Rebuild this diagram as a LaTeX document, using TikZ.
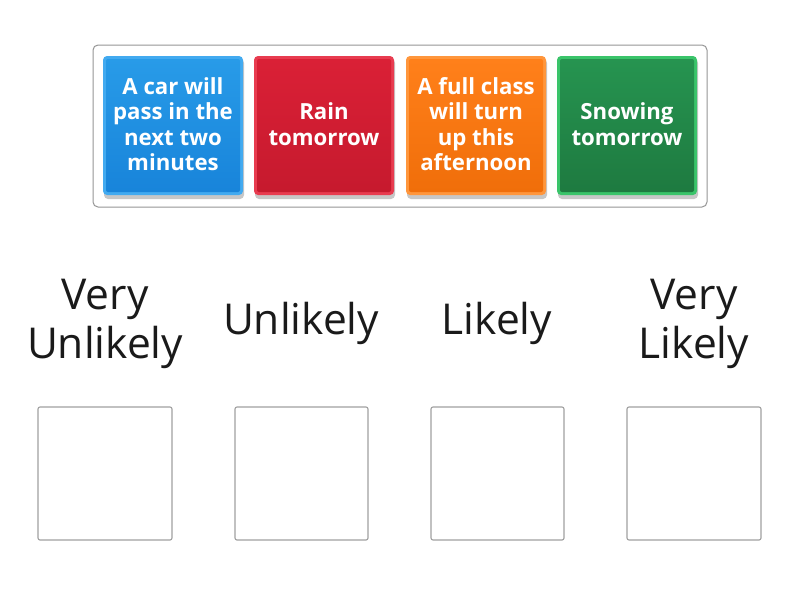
\documentclass[tikz,border=0pt]{standalone}
\usepackage{fontspec}
\setmainfont{Open Sans}
\definecolor{blueL}{RGB}{66,170,240}
\definecolor{blueT}{RGB}{40,155,232}
\definecolor{blueB}{RGB}{24,132,218}
\definecolor{redL}{RGB}{232,60,80}
\definecolor{redT}{RGB}{218,32,54}
\definecolor{redB}{RGB}{198,26,46}
\definecolor{orL}{RGB}{255,150,60}
\definecolor{orT}{RGB}{255,128,26}
\definecolor{orB}{RGB}{240,110,10}
\definecolor{grL}{RGB}{58,196,106}
\definecolor{grT}{RGB}{38,148,80}
\definecolor{grB}{RGB}{30,122,64}
\definecolor{framegray}{RGB}{150,150,150}
\definecolor{boxgray}{RGB}{160,160,160}
\definecolor{labelink}{RGB}{26,26,26}
\begin{document}
\begin{tikzpicture}[x=1pt,y=-1pt,
  cardtext/.style={text=white,font=\bfseries\fontsize{22.2}{25.5}\selectfont,align=center,inner sep=0pt},
  labeltext/.style={text=labelink,font=\fontsize{42.5}{49}\selectfont,align=center,inner sep=0pt},
  dropbox/.style={draw=boxgray,line width=1.1pt,rounded corners=2pt,fill=white},
  shadowbox/.style={fill=black,opacity=0.22,rounded corners=4pt}]
\useasboundingbox (0,0) rectangle (800,600);
\fill[white] (0,0) rectangle (800,600);
% container
\draw[framegray,line width=1pt,rounded corners=5pt] (93,45) rectangle (707,207);
% cards
\foreach \xl/\c in {103/blue,254/red,406/or,557/gr}{
  \fill[shadowbox] (\xl+1,59) rectangle (\xl+141,199);
  \fill[\c L,rounded corners=4pt] (\xl,56) rectangle (\xl+140,195);
  \shade[top color=\c T,bottom color=\c B,rounded corners=2pt] (\xl+3,59) rectangle (\xl+137,192);
}
\node[cardtext] (c1) at (173,124) {A car will\\pass in the\\next two\\minutes};
\node[cardtext] (c2) at (324,124) {Rain\\tomorrow};
\node[cardtext] (c3) at (476,124) {A full class\\will turn\\up this\\afternoon};
\node[cardtext] (c4) at (627,124) {Snowing\\tomorrow};
% labels
\node[labeltext,anchor=base] (l1) at (105,358) {Very\\Unlikely};
\node[labeltext,anchor=base] (l2) at (301,334) {Unlikely};
\node[labeltext,anchor=base] (l3) at (497,334) {Likely};
\node[labeltext,anchor=base] (l4) at (694,358) {Very\\Likely};
% drop boxes
\draw[dropbox] (38,407) rectangle (172,540);
\draw[dropbox] (235,407) rectangle (368,540);
\draw[dropbox] (431,407) rectangle (564,540);
\draw[dropbox] (627,407) rectangle (761,540);
\end{tikzpicture}
\end{document}
